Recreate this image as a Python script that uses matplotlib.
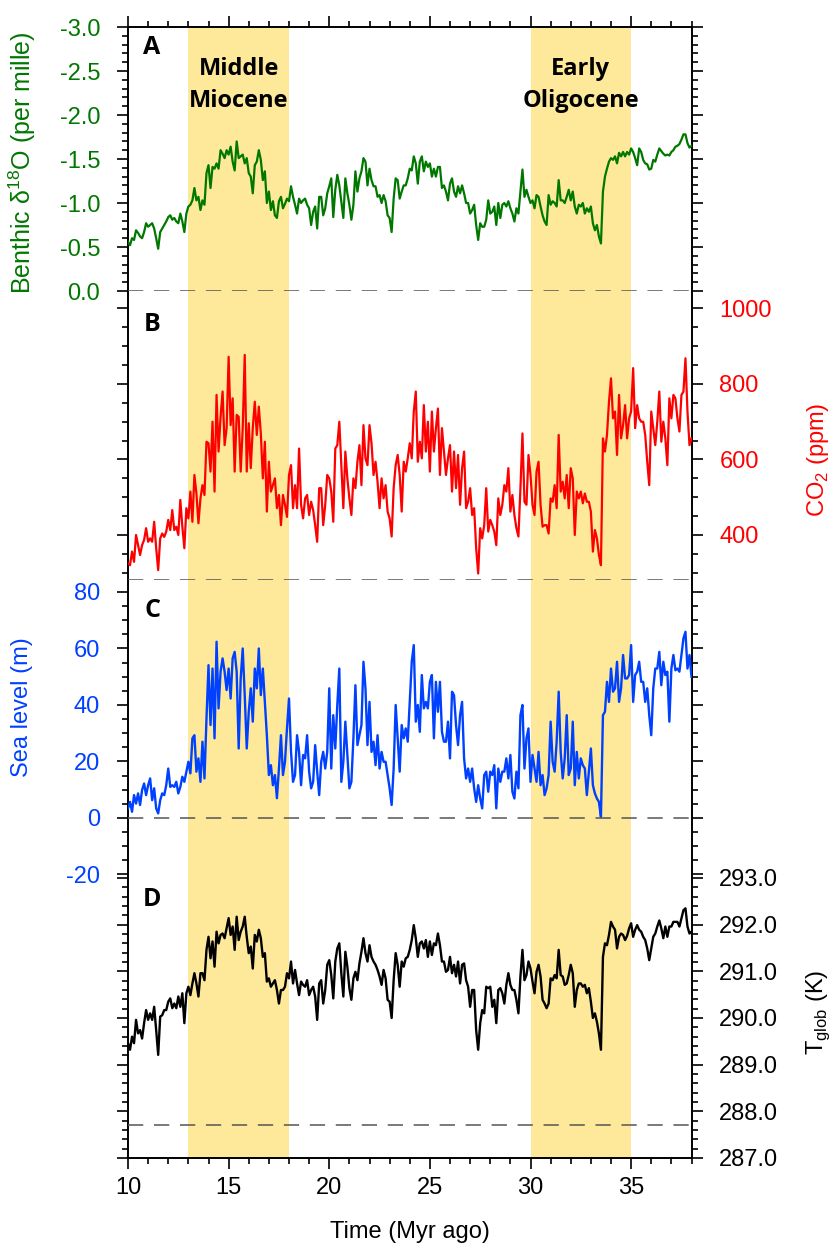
import numpy as np
import matplotlib
matplotlib.use("Agg")
import matplotlib.pyplot as plt
from matplotlib.ticker import FixedLocator, FormatStrFormatter

plt.rcParams['font.family'] = ['Liberation Sans', 'DejaVu Sans']
plt.rcParams['mathtext.fontset'] = 'custom'
plt.rcParams['mathtext.rm'] = 'Liberation Sans'
plt.rcParams['axes.unicode_minus'] = False

# time axis (Myr ago), 0.1 Myr steps
time = np.round(np.arange(10.0, 38.01, 0.1), 1)

# A: benthic d18O (plotted as negative, per mille)
d18o = [
    -0.56, -0.52, -0.60, -0.58, -0.69, -0.66, -0.62, -0.60, -0.67, -0.77,
    -0.73, -0.75, -0.77, -0.71, -0.60, -0.48, -0.67, -0.71, -0.75, -0.79,
    -0.84, -0.86, -0.81, -0.83, -0.79, -0.77, -0.88, -0.79, -0.67, -0.88,
    -0.96, -0.98, -1.03, -1.17, -1.03, -1.07, -0.92, -1.03, -0.98, -1.34,
    -1.43, -1.17, -1.41, -1.39, -1.45, -1.39, -1.60, -1.56, -1.51, -1.60,
    -1.55, -1.64, -1.47, -1.37, -1.70, -1.51, -1.53, -1.55, -1.45, -1.51,
    -1.34, -1.30, -1.11, -1.43, -1.47, -1.60, -1.49, -1.26, -1.36, -1.00,
    -1.13, -0.92, -1.02, -0.86, -0.83, -1.02, -1.07, -0.94, -0.99, -1.05,
    -1.02, -1.19, -1.07, -0.98, -0.88, -1.05, -1.00, -1.03, -1.05, -0.98,
    -0.94, -0.75, -0.90, -0.96, -0.71, -1.07, -1.07, -0.86, -0.94, -1.11,
    -1.19, -1.28, -0.84, -1.15, -1.32, -1.20, -1.02, -0.83, -1.28, -1.11,
    -0.98, -0.81, -0.98, -1.36, -1.13, -1.28, -1.36, -1.51, -1.47, -1.20,
    -1.39, -1.26, -1.19, -1.19, -1.07, -1.09, -1.00, -1.09, -1.02, -0.86,
    -0.83, -0.67, -1.05, -1.28, -1.26, -1.05, -1.13, -1.20, -1.20, -1.28,
    -1.39, -1.37, -1.53, -1.45, -1.22, -1.47, -1.53, -1.36, -1.47, -1.41,
    -1.45, -1.30, -1.39, -1.30, -1.41, -1.41, -1.17, -1.20, -1.13, -1.03,
    -1.22, -1.28, -1.13, -1.07, -1.19, -1.11, -1.20, -1.11, -1.00, -1.00,
    -0.88, -0.92, -0.98, -0.75, -0.58, -0.77, -0.73, -0.73, -0.81, -1.03,
    -0.88, -0.90, -0.96, -0.75, -1.00, -0.83, -0.98, -1.00, -0.96, -1.02,
    -0.94, -0.88, -0.79, -0.94, -0.88, -1.13, -1.38, -1.07, -1.15, -1.07,
    -1.00, -1.03, -0.94, -1.09, -1.07, -0.96, -0.86, -0.79, -0.75, -1.09,
    -0.98, -1.02, -1.00, -0.96, -1.26, -1.03, -1.03, -1.00, -1.07, -1.15,
    -1.03, -1.13, -0.96, -0.88, -0.98, -0.96, -1.00, -0.88, -0.94, -0.90,
    -0.96, -0.77, -0.69, -0.75, -0.62, -0.54, -1.13, -1.30, -1.39, -1.47,
    -1.51, -1.49, -1.53, -1.45, -1.57, -1.53, -1.58, -1.53, -1.58, -1.55,
    -1.62, -1.58, -1.51, -1.43, -1.62, -1.58, -1.49, -1.45, -1.44, -1.38,
    -1.39, -1.49, -1.47, -1.55, -1.62, -1.59, -1.56, -1.54, -1.55, -1.54,
    -1.58, -1.60, -1.64, -1.65, -1.67, -1.72, -1.78, -1.78, -1.68, -1.63,
    -1.65,
]

# B: CO2 (ppm)
co2 = [
    325, 320, 356, 329, 400, 373, 347, 373, 387, 418,
    382, 391, 382, 435, 365, 307, 391, 404, 395, 409,
    440, 413, 466, 413, 422, 400, 493, 422, 365, 471,
    444, 515, 435, 559, 510, 431, 497, 532, 506, 647,
    643, 568, 700, 515, 771, 621, 713, 780, 638, 683,
    872, 691, 762, 568, 718, 713, 568, 683, 877, 568,
    696, 577, 683, 753, 665, 740, 669, 550, 647, 462,
    594, 515, 532, 550, 471, 506, 426, 506, 480, 448,
    559, 585, 471, 532, 471, 629, 480, 444, 497, 506,
    453, 488, 466, 426, 382, 524, 524, 426, 480, 559,
    550, 515, 435, 629, 638, 700, 585, 471, 621, 550,
    497, 453, 550, 524, 594, 638, 532, 691, 603, 585,
    691, 643, 559, 594, 541, 471, 550, 497, 532, 462,
    444, 396, 524, 585, 612, 559, 462, 594, 568, 603,
    643, 603, 727, 780, 594, 647, 603, 744, 621, 700,
    568, 727, 621, 683, 735, 559, 683, 621, 559, 603,
    638, 515, 621, 524, 612, 480, 577, 621, 471, 488,
    524, 453, 471, 365, 298, 418, 391, 426, 524, 409,
    440, 426, 409, 373, 497, 453, 480, 532, 515, 577,
    462, 506, 453, 418, 396, 524, 669, 488, 480, 612,
    559, 480, 453, 568, 594, 480, 422, 426, 426, 404,
    497, 488, 532, 471, 665, 515, 541, 497, 559, 471,
    577, 550, 400, 515, 497, 515, 484, 510, 488, 488,
    462, 356, 413, 391, 347, 320, 656, 621, 665, 753,
    815, 709, 727, 612, 771, 656, 691, 744, 656, 709,
    727, 842, 683, 744, 709, 700, 700, 665, 594, 532,
    727, 683, 638, 700, 780, 647, 700, 656, 585, 762,
    709, 771, 762, 709, 674, 771, 780, 868, 727, 638,
    656,
]

# C: sea level (m)
sea_level = [
    3.4, 5.7, 2.2, 8.1, 5.1, 8.7, 4.6, 9.9, 12.2, 8.1,
    11.6, 14.0, 6.3, 10.5, 3.4, 1.6, 6.3, 8.7, 8.1, 11.6,
    17.5, 11.0, 11.6, 11.0, 12.8, 8.7, 11.0, 14.6, 12.8, 16.4,
    19.9, 15.8, 28.2, 29.3, 16.4, 21.1, 12.8, 27.0, 14.0, 35.2,
    54.1, 32.9, 52.9, 28.2, 62.4, 38.8, 51.8, 56.5, 51.8, 45.3,
    52.9, 42.3, 56.5, 58.8, 51.8, 24.6, 49.4, 60.0, 43.5, 24.6,
    37.6, 45.9, 34.1, 52.9, 45.9, 60.0, 43.5, 52.9, 41.1, 29.3,
    15.2, 18.7, 11.6, 15.2, 7.0, 17.5, 29.3, 15.2, 19.9, 31.7,
    42.3, 23.4, 12.8, 15.2, 29.3, 23.4, 11.6, 22.3, 21.1, 29.3,
    16.4, 10.5, 12.8, 25.8, 16.4, 8.1, 19.9, 23.4, 17.5, 23.4,
    45.9, 17.5, 36.4, 24.6, 40.0, 52.9, 12.8, 19.9, 34.1, 22.3,
    10.5, 12.8, 28.2, 47.0, 25.8, 29.3, 32.9, 55.3, 45.9, 25.8,
    41.1, 23.4, 27.0, 18.7, 29.3, 17.5, 23.4, 19.9, 19.9, 15.2,
    10.5, 4.6, 17.5, 40.0, 28.2, 16.4, 32.9, 28.2, 31.7, 27.0,
    41.1, 55.3, 61.2, 34.1, 40.0, 30.5, 50.6, 38.8, 41.1, 38.8,
    48.2, 50.6, 28.2, 48.2, 37.6, 48.2, 30.5, 27.0, 27.0, 34.1,
    21.1, 44.7, 43.5, 32.9, 25.8, 36.4, 41.1, 21.1, 14.0, 17.5,
    12.8, 17.5, 10.5, 5.7, 11.6, 6.9, 3.4, 15.2, 16.4, 9.3,
    16.4, 15.2, 18.7, 3.4, 17.5, 12.8, 16.4, 16.4, 21.1, 14.0,
    22.3, 9.3, 6.9, 16.4, 10.5, 36.4, 40.0, 17.5, 28.2, 31.7,
    12.8, 22.3, 17.5, 12.8, 23.4, 11.6, 15.2, 8.1, 10.5, 15.2,
    34.1, 19.9, 16.4, 27.0, 44.7, 23.4, 14.0, 21.1, 36.4, 15.2,
    17.5, 34.1, 11.6, 23.4, 14.0, 21.1, 18.7, 17.5, 8.1, 16.4,
    24.6, 11.6, 8.7, 6.9, 5.7, 0.4, 36.4, 37.6, 48.2, 41.1,
    52.9, 44.7, 45.9, 55.3, 41.1, 45.9, 57.7, 49.4, 49.4, 50.6,
    61.2, 41.1, 50.6, 51.8, 55.3, 48.2, 48.2, 41.1, 45.9, 36.4,
    29.3, 45.9, 52.9, 52.9, 58.8, 47.0, 55.3, 50.6, 51.8, 34.1,
    52.9, 57.7, 52.3, 52.9, 51.8, 57.7, 63.6, 65.9, 52.9, 57.7,
    50.0,
]

# D: global mean temperature (K)
t_glob = [
    289.46, 289.32, 289.60, 289.46, 289.96, 289.67, 289.74, 289.56, 289.89, 290.17,
    289.96, 290.10, 289.96, 290.24, 289.74, 289.21, 290.03, 290.06, 290.17, 290.17,
    290.35, 290.42, 290.21, 290.31, 290.21, 290.46, 290.24, 290.53, 289.89, 290.53,
    290.67, 290.49, 290.74, 290.96, 290.74, 290.46, 290.96, 290.96, 290.81, 291.46,
    291.74, 291.28, 291.64, 291.10, 291.85, 291.60, 291.78, 291.81, 291.71, 291.92,
    292.14, 291.78, 291.96, 291.46, 292.17, 291.67, 291.85, 291.96, 292.17, 291.74,
    291.39, 291.53, 291.06, 291.78, 291.64, 291.89, 291.71, 291.31, 291.39, 290.78,
    290.85, 290.67, 290.74, 290.81, 290.60, 290.31, 290.60, 290.60, 290.67, 290.96,
    290.85, 291.21, 290.74, 291.03, 290.74, 290.49, 290.78, 290.71, 290.67, 290.81,
    290.49, 290.60, 290.67, 290.46, 289.96, 290.74, 290.81, 290.31, 290.60, 291.14,
    291.24, 290.92, 290.42, 291.21, 291.49, 291.60, 290.96, 290.46, 291.42, 291.10,
    290.64, 290.39, 290.85, 290.99, 290.81, 291.17, 291.42, 291.71, 291.39, 291.21,
    291.56, 291.31, 291.21, 291.14, 291.03, 290.89, 290.71, 291.03, 290.85, 290.39,
    290.35, 290.00, 290.81, 291.39, 291.14, 290.67, 291.21, 291.10, 291.28, 291.31,
    291.46, 291.67, 291.99, 291.71, 291.31, 291.60, 291.64, 291.49, 291.67, 291.31,
    291.64, 291.35, 291.60, 291.56, 291.81, 291.56, 291.21, 291.21, 290.99, 291.03,
    291.31, 290.96, 291.14, 290.89, 291.21, 290.74, 291.14, 291.17, 290.81, 290.67,
    290.24, 290.60, 290.60, 289.74, 289.32, 289.89, 290.17, 290.10, 290.67, 290.64,
    290.67, 290.24, 290.39, 289.89, 290.60, 290.64, 290.53, 290.31, 290.71, 290.96,
    290.71, 290.60, 290.60, 290.39, 290.10, 290.89, 291.46, 290.81, 290.92, 291.21,
    291.06, 290.78, 290.53, 290.99, 291.14, 290.89, 290.39, 290.31, 290.21, 290.31,
    290.85, 290.81, 290.92, 290.85, 291.46, 290.92, 290.89, 290.71, 290.74, 290.92,
    291.14, 290.96, 290.24, 290.60, 290.74, 290.74, 290.67, 290.71, 290.53, 290.64,
    290.35, 290.00, 290.10, 289.92, 289.67, 289.32, 291.31, 291.60, 291.56, 291.78,
    292.06, 291.96, 291.89, 291.49, 291.74, 291.81, 291.78, 291.67, 291.76, 291.92,
    292.03, 291.74, 291.89, 291.99, 291.89, 291.85, 291.74, 291.67, 291.49, 291.24,
    291.49, 291.74, 291.81, 291.96, 292.09, 291.92, 291.71, 291.96, 291.74, 291.96,
    291.96, 292.06, 292.06, 292.06, 291.96, 292.14, 292.31, 292.35, 291.96, 291.81,
    291.85,
]

# shaded intervals and reference (dashed) levels
periods = [(13.0, 18.0, "Middle\nMiocene"), (30.0, 35.0, "Early\nOligocene")]
ref_d18o, ref_co2, ref_sea, ref_t = 0.0, 280.0, 0.0, 287.7

W, H = 838, 1247
fig = plt.figure(figsize=(W / 100, H / 100), dpi=100)

X0, X1 = 128, 691.5


def box(top, bottom):
    return [X0 / W, 1 - bottom / H, (X1 - X0) / W, (bottom - top) / H]


def fxy(px, py):
    return px / W, 1 - py / H


green = "#007800"
red = "#ff0000"
blue = "#0040ff"
shade = "#fde999"
tick_fs = 17

frame = fig.add_axes(box(27, 1158))
frame.set_xlim(10, 38)
frame.set_ylim(0, 1)
frame.set_yticks([])
frame.xaxis.set_major_locator(FixedLocator([10, 15, 20, 25, 30, 35]))
frame.xaxis.set_minor_locator(FixedLocator(np.arange(10, 39, 1)))
frame.tick_params(axis='x', which='both', direction='out', top=True,
                  labelsize=tick_fs, width=1.2, pad=6)
frame.tick_params(axis='x', which='major', length=8)
frame.tick_params(axis='x', which='minor', length=4)
for s in frame.spines.values():
    s.set_linewidth(1.4)
for a, b, _ in periods:
    frame.axvspan(a, b, color=shade, lw=0, zorder=0)


def panel(top, bottom, ylim, major, minor, fmt, color, side):
    ax = fig.add_axes(box(top, bottom))
    ax.set_xlim(10, 38)
    ax.set_ylim(*ylim)
    ax.patch.set_visible(False)
    for s in ax.spines.values():
        s.set_visible(False)
    ax.set_xticks([])
    ax.yaxis.set_major_locator(FixedLocator(major))
    ax.yaxis.set_minor_locator(FixedLocator(minor))
    ax.yaxis.set_major_formatter(FormatStrFormatter(fmt))
    ax.tick_params(axis='y', which='both', direction='out', left=True,
                   right=True, labelleft=(side == 'left'),
                   labelright=(side == 'right'), labelsize=tick_fs,
                   labelcolor=color, width=1.2, pad=12)
    ax.tick_params(axis='y', which='major', length=8)
    ax.tick_params(axis='y', which='minor', length=4)
    return ax


dash = dict(color="#555555", lw=1.1, ls=(0, (10, 7)))

axA = panel(27, 291, (0.0, -3.0), [-3.0, -2.5, -2.0, -1.5, -1.0, -0.5, 0.0],
            np.round(np.arange(-3.0, 0.01, 0.1), 1), "%.1f", green, 'left')
axA.plot(time, d18o, color=green, lw=1.6)
axA.axhline(ref_d18o, **dash)

axB = panel(291.1, 580.3, (280, 1046), [400, 600, 800, 1000],
            np.arange(300, 1001, 50), "%d", red, 'right')
axB.plot(time, co2, color=red, lw=1.6)
axB.axhline(ref_co2, **dash)

axC = panel(580.7, 877.3, (-21, 84), [-20, 0, 20, 40, 60, 80],
            np.arange(-20, 81, 5), "%d", blue, 'left')
axC.plot(time, sea_level, color=blue, lw=1.7)
axC.axhline(ref_sea, **dash)

axD = panel(878, 1158, (287, 293), [287, 288, 289, 290, 291, 292, 293],
            np.round(np.arange(287, 293.01, 0.2), 1), "%.1f", "black", 'right')
axD.plot(time, t_glob, color="black", lw=1.7)
axD.axhline(ref_t, **dash)

for letter, py in [("A", 47), ("B", 325), ("C", 611), ("D", 900)]:
    fig.text(*fxy(152, py), letter, fontsize=18, fontweight='bold',
             family='Open Sans', ha='center', va='center')

for a, b, label in periods:
    xc = X0 + ((a + b) / 2 - 10) / 28 * (X1 - X0)
    fig.text(*fxy(xc, 85), label, fontsize=17, fontweight='bold',
             family='Open Sans', ha='center', va='center', linespacing=1.45)

fig.text(*fxy(410, 1232), "Time (Myr ago)", fontsize=tick_fs,
         ha='center', va='center')
fig.text(*fxy(22, 163), "Benthic δ$^{\\mathregular{18}}$O (per mille)",
         rotation=90, color=green, fontsize=18, ha='center', va='center')
fig.text(*fxy(22, 707), "Sea level (m)", rotation=90, color=blue,
         fontsize=tick_fs, ha='center', va='center')
fig.text(*fxy(818, 460), "CO$_{\\mathregular{2}}$ (ppm)", rotation=90, color=red,
         fontsize=tick_fs, ha='center', va='center')
fig.text(*fxy(818, 1012), "T$_{\\mathregular{glob}}$ (K)", rotation=90,
         color="black", fontsize=tick_fs, ha='center', va='center')

fig.savefig("out.png", dpi=100)
